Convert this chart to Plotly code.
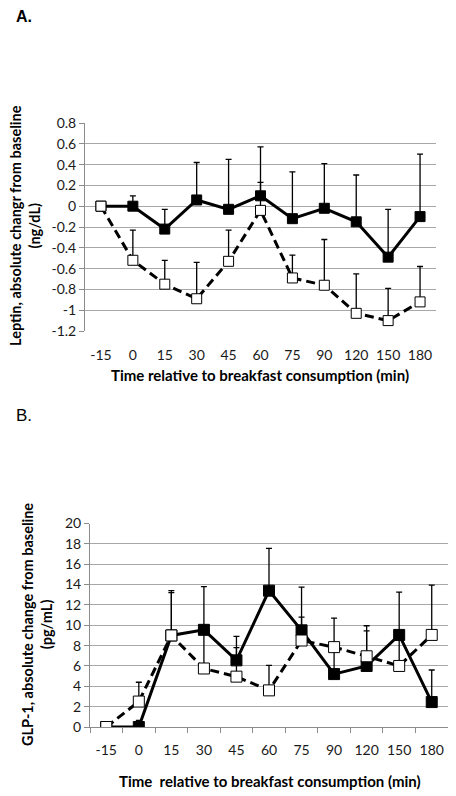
import plotly.graph_objects as go

# ---------------- data ----------------
times = ["-15", "0", "15", "30", "45", "60", "75", "90", "120", "150", "180"]

# Panel A: Leptin (ng/dL)
leptin_filled = [0, 0.0, -0.22, 0.06, -0.03, 0.10, -0.12, -0.02, -0.15, -0.49, -0.10]
leptin_filled_top = [0, 0.10, -0.03, 0.42, 0.45, 0.57, 0.33, 0.41, 0.30, -0.03, 0.50]
leptin_open = [0, -0.52, -0.75, -0.89, -0.53, -0.04, -0.69, -0.76, -1.03, -1.10, -0.92]
leptin_open_top = [0, -0.23, -0.52, -0.54, -0.23, 0.23, -0.47, -0.32, -0.65, -0.79, -0.58]
leptin_ticks = [0.8, 0.6, 0.4, 0.2, 0, -0.2, -0.4, -0.6, -0.8, -1, -1.2]

# Panel B: GLP-1 (pg/mL)
glp_filled = [0, 0.0, 9.0, 9.55, 6.55, 13.4, 9.5, 5.2, 6.0, 9.05, 2.45]
glp_filled_top = [0, 0.65, 13.2, 13.8, 8.9, 17.55, 13.75, 7.9, 9.45, 13.25, 5.6]
glp_open = [0, 2.5, 9.0, 5.75, 4.95, 3.6, 8.5, 7.85, 6.95, 6.0, 9.05]
glp_open_top = [0, 4.4, 13.4, 9.3, 7.8, 6.05, 10.8, 10.7, 9.95, 9.0, 13.95]
glp_ticks = [0, 2, 4, 6, 8, 10, 12, 14, 16, 18, 20]

yA_range = [-1.2, 0.8]
yB_range = [0, 20]

# the page body has an 8px default margin; size the figure to fit the window
OFF = 8
W, H = 456 - OFF, 796 - OFF
def px_x(p):
    return (p - OFF) / W
def px_y(p):
    return 1 - (p - OFF) / H

domA_x = [px_x(85), px_x(436)]
domA_y = [px_y(331), px_y(123)]
domB_x = [px_x(90), px_x(448)]
domB_y = [px_y(727), px_y(523.5)]

FONT = "Lato"
GRID = "#a8a8a8"
AXIS = "#8c8c8c"

def up(vals, tops):
    return [t - v for v, t in zip(vals, tops)]

zeros = [0] * len(times)

def err(vals, tops):
    return dict(type="data", symmetric=False, array=up(vals, tops), arrayminus=zeros,
                color="black", thickness=1.3, width=3)

fig = go.Figure()

# Panel A
fig.add_trace(go.Scatter(x=times, y=leptin_filled, xaxis="x", yaxis="y", mode="lines+markers",
                         line=dict(color="black", width=3),
                         marker=dict(symbol="square", size=10, color="black", line=dict(color="black", width=1)),
                         error_y=err(leptin_filled, leptin_filled_top), showlegend=False))
fig.add_trace(go.Scatter(x=times, y=leptin_open, xaxis="x", yaxis="y", mode="lines+markers",
                         line=dict(color="black", width=3, dash="9px,5px"),
                         marker=dict(symbol="square", size=10, color="white", line=dict(color="black", width=1)),
                         error_y=err(leptin_open, leptin_open_top), showlegend=False))

# Panel B
fig.add_trace(go.Scatter(x=times, y=glp_filled, xaxis="x2", yaxis="y2", mode="lines+markers",
                         line=dict(color="black", width=3),
                         marker=dict(symbol="square", size=11, color="black", line=dict(color="black", width=1)),
                         error_y=err(glp_filled, glp_filled_top), showlegend=False))
fig.add_trace(go.Scatter(x=times, y=glp_open, xaxis="x2", yaxis="y2", mode="lines+markers",
                         line=dict(color="black", width=3, dash="9px,5px"),
                         marker=dict(symbol="square", size=11, color="white", line=dict(color="black", width=1)),
                         error_y=err(glp_open, glp_open_top), showlegend=False))

# Zero-line axis for panel A
zero_pos = domA_y[0] + (0 - yA_range[0]) / (yA_range[1] - yA_range[0]) * (domA_y[1] - domA_y[0])

tickfont = dict(family=FONT, size=14, color="#1a1a1a")

fig.update_layout(
    width=W, height=H, margin=dict(l=0, r=0, t=0, b=0, autoexpand=False),
    paper_bgcolor="white", plot_bgcolor="white",
    xaxis=dict(domain=domA_x, anchor="y", type="category", categoryorder="array", categoryarray=times,
               range=[-0.5, len(times) - 0.5], showgrid=False, showline=False, zeroline=False,
               ticks="outside", ticklen=0, ticklabelstandoff=11, tickfont=tickfont, tickangle=0,
               automargin=False),
    xaxis3=dict(domain=domA_x, overlaying="x", anchor="free", position=zero_pos, type="category",
                categoryorder="array", categoryarray=times, range=[-0.5, len(times) - 0.5],
                showgrid=False, showline=True, linecolor=AXIS, linewidth=1, zeroline=False,
                ticks="outside", ticklen=5, tickcolor=AXIS, tickson="boundaries", showticklabels=False,
                automargin=False),
    yaxis=dict(domain=domA_y, anchor="x", range=yA_range, tickmode="array", tickvals=leptin_ticks,
               ticktext=[f"{v:g}" for v in leptin_ticks], showgrid=True, gridcolor=GRID,
               gridwidth=1, zeroline=False, showline=True, linecolor=AXIS, ticks="outside", ticklen=5,
               tickcolor=AXIS, tickfont=tickfont, automargin=False),
    xaxis2=dict(domain=domB_x, anchor="y2", type="category", categoryorder="array", categoryarray=times,
                range=[-0.5, len(times) - 0.5], showgrid=False, showline=True, linecolor=AXIS, zeroline=False,
                ticks="outside", ticklen=5, tickcolor=AXIS, tickson="boundaries", ticklabelstandoff=10,
                tickfont=tickfont, tickangle=0, automargin=False),
    yaxis2=dict(domain=domB_y, anchor="x2", range=yB_range, tickmode="array", tickvals=glp_ticks,
                ticktext=[f"{v:g}" for v in glp_ticks], showgrid=True, gridcolor=GRID,
                gridwidth=1, zeroline=False, showline=True, linecolor=AXIS, ticks="outside", ticklen=5,
                tickcolor=AXIS, tickfont=tickfont, automargin=False),
)

xtitle_font = dict(family=FONT, size=15, color="black")
ytitle_font = dict(family=FONT, size=14.5, color="black")
ann = [
    dict(text="<b>A.</b>", x=px_x(14), y=px_y(17), xanchor="left", yanchor="middle",
         font=dict(family="Liberation Sans", size=16, color="black")),
    dict(text="B.", x=px_x(14), y=px_y(415), xanchor="left", yanchor="middle",
         font=dict(family="Liberation Sans", size=17, color="black")),
    dict(text="<b>Time relative to breakfast consumption (min)</b>", x=px_x(260), y=px_y(375),
         xanchor="center", yanchor="middle", font=xtitle_font),
    dict(text="<b>Time\u00a0 relative to breakfast consumption (min)</b>", x=px_x(270), y=px_y(781),
         xanchor="center", yanchor="middle", font=xtitle_font),
    dict(text="<b>Leptin, absolute changr from baseline<br>(ng/dL)</b>", x=px_x(25), y=px_y(226),
         xanchor="center", yanchor="middle", textangle=-90, font=ytitle_font),
    dict(text="<b>GLP-1, absolute change from baseline<br>(pg/mL)</b>", x=px_x(37), y=px_y(625),
         xanchor="center", yanchor="middle", textangle=-90, font=ytitle_font),
]
for a in ann:
    a.update(xref="paper", yref="paper", showarrow=False)
fig.update_layout(annotations=ann)

fig.write_html("out.html")
